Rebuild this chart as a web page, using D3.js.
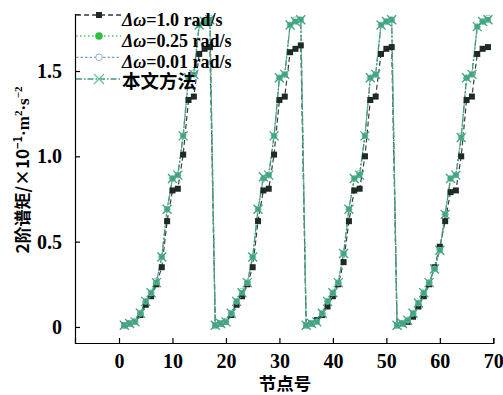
<!DOCTYPE html>
<html><head><meta charset="utf-8">
<script src="https://cdn.jsdelivr.net/npm/d3@7"></script>
<style>body{margin:0;background:#fff}svg{display:block}</style>
</head><body><svg id="c" width="503" height="395"></svg>
<script>
const nodes = [1,2,3,4,5,6,7,8,9,10,11,12,13,14,15,16,17,
  18,19,20,21,22,23,24,25,26,27,28,29,30,31,32,33,34,
  35,36,37,38,39,40,41,42,43,44,45,46,47,48,49,50,51,
  52,53,54,55,56,57,58,59,60,61,62,63,64,65,66,67,68,69];
const dw10 = [0.01,0.02,0.03,0.07,0.13,0.18,0.25,0.35,0.62,0.80,0.81,1.01,1.33,1.35,1.60,1.63,1.64,
  0.01,0.02,0.03,0.07,0.13,0.18,0.25,0.35,0.62,0.80,0.81,1.01,1.33,1.35,1.61,1.63,1.65,
  0.01,0.02,0.04,0.07,0.12,0.18,0.25,0.38,0.62,0.80,0.81,1.00,1.33,1.35,1.60,1.63,1.64,
  0.01,0.02,0.03,0.06,0.12,0.18,0.25,0.35,0.47,0.62,0.79,0.80,1.00,1.33,1.35,1.60,1.63,1.64];
const dw025 = [0.01,0.02,0.03,0.08,0.15,0.20,0.26,0.41,0.69,0.87,0.89,1.12,1.46,1.48,1.77,1.79,1.80,
  0.01,0.02,0.03,0.08,0.15,0.20,0.26,0.41,0.69,0.87,0.89,1.12,1.46,1.48,1.77,1.79,1.80,
  0.01,0.02,0.03,0.08,0.15,0.20,0.26,0.43,0.69,0.87,0.89,1.12,1.46,1.48,1.77,1.79,1.80,
  0.01,0.02,0.04,0.08,0.14,0.20,0.26,0.34,0.45,0.66,0.87,0.89,1.11,1.46,1.48,1.76,1.79,1.80];
const dw001 = [0.01,0.02,0.03,0.08,0.15,0.20,0.27,0.41,0.69,0.87,0.89,1.12,1.46,1.49,1.77,1.79,1.81,
  0.01,0.02,0.03,0.08,0.15,0.21,0.26,0.41,0.69,0.87,0.89,1.12,1.46,1.48,1.77,1.80,1.80,
  0.01,0.02,0.03,0.08,0.15,0.20,0.26,0.43,0.69,0.87,0.90,1.12,1.46,1.48,1.77,1.79,1.80,
  0.01,0.02,0.04,0.08,0.14,0.20,0.26,0.34,0.45,0.66,0.87,0.89,1.12,1.46,1.48,1.76,1.79,1.81];
const proposed = [0.01,0.02,0.03,0.08,0.15,0.20,0.26,0.41,0.69,0.87,0.89,1.12,1.46,1.48,1.77,1.79,1.80,
  0.01,0.02,0.03,0.08,0.15,0.20,0.26,0.41,0.69,0.88,0.89,1.12,1.46,1.48,1.77,1.79,1.80,
  0.01,0.02,0.03,0.08,0.15,0.20,0.26,0.43,0.69,0.87,0.89,1.12,1.46,1.48,1.77,1.79,1.80,
  0.01,0.02,0.04,0.08,0.14,0.20,0.26,0.34,0.45,0.66,0.87,0.89,1.11,1.46,1.48,1.76,1.79,1.80];
const xTicks = [0,10,20,30,40,50,60,70];
const yTicks = [0,0.5,1.0,1.5];
const yTickLabels = ["0","0.5","1.0","1.5"];
const legendValues = ["=1.0 rad/s","=0.25 rad/s","=0.01 rad/s"];
const legendMethod = "本文方法";
const xTitle = "节点号";

const svg = d3.select("#c");
const x = d3.scaleLinear().domain([-8.23,70]).range([75,493.3]);
const y = d3.scaleLinear().domain([-0.094,1.834]).range([343,14]);
const SERIF = "'Liberation Serif','Times New Roman',serif";
const CJK = "'Noto Sans CJK SC','Noto Sans',sans-serif";

// axes
const gx = svg.append("g").attr("transform","translate(0,343)")
  .call(d3.axisBottom(x).tickValues(xTicks).tickSizeInner(-5).tickSizeOuter(-5).tickFormat(d3.format("d")));
gx.selectAll("text").attr("y",10.5).attr("dy","0.71em")
  .style("font-family",SERIF).style("font-weight","bold").style("font-size","20px").attr("fill","#000");
const gy = svg.append("g").attr("transform","translate(75,0)")
  .call(d3.axisLeft(y).tickValues(yTicks).tickSizeInner(-5).tickSizeOuter(-5).tickFormat((d,i)=>yTickLabels[i]));
gy.selectAll("text").attr("x",-13)
  .style("font-family",SERIF).style("font-weight","bold").style("font-size","20px").attr("fill","#000");
svg.selectAll(".domain,.tick line").attr("stroke","#000").attr("stroke-width",1.2);

// titles
svg.append("text").attr("x",285).attr("y",389.5).attr("text-anchor","middle")
  .style("font-family",CJK).style("font-weight","bold").style("font-size","17.5px").text(xTitle);
const yt = svg.append("text").attr("transform","translate(29,170) rotate(-90)").attr("text-anchor","middle")
  .style("font-size","17px").style("font-weight","bold");
yt.append("tspan").style("font-family",CJK).text("2阶谱矩/×10");
yt.append("tspan").style("font-family",CJK).style("font-size","11px").attr("dy",-7).text("−1");
yt.append("tspan").style("font-family",SERIF).attr("dy",7).text("·m");
yt.append("tspan").style("font-family",SERIF).style("font-size","11px").attr("dy",-7).text("2");
yt.append("tspan").style("font-family",SERIF).attr("dy",7).text("·s");
yt.append("tspan").style("font-family",SERIF).style("font-size","11px").attr("dy",-7).text("−2");

// series
const mk = vals => nodes.map((n,i)=>({n, v: vals[i]}));
const line = d3.line().x(d=>x(d.n)).y(d=>y(d.v));
const styles = [
  {data: mk(dw10), stroke:"#3a3a3a", dash:"5,3", w:1.2},
  {data: mk(dw025), stroke:"#5cc060", dash:"1.5,2.5", w:1.4},
  {data: mk(dw001), stroke:"#7f9fc6", dash:"2.5,2", w:1},
  {data: mk(proposed), stroke:"#3f9c7c", dash:"6,2,1.5,2", w:1.3}
];
const gl = svg.append("g");
styles.forEach(s=>{
  gl.append("path").datum(s.data).attr("d",line).attr("fill","none")
    .attr("stroke",s.stroke).attr("stroke-width",s.w).attr("stroke-dasharray",s.dash);
});
const gm = svg.append("g");
gm.selectAll("rect.sq").data(styles[0].data).join("rect").attr("class","sq")
  .attr("x",d=>x(d.n)-3).attr("y",d=>y(d.v)-3).attr("width",6).attr("height",6).attr("fill","#1e2a24");
gm.selectAll("circle.g").data(styles[1].data).join("circle").attr("class","g")
  .attr("cx",d=>x(d.n)).attr("cy",d=>y(d.v)).attr("r",3).attr("fill","#3cb85a");
gm.selectAll("circle.b").data(styles[2].data).join("circle").attr("class","b")
  .attr("cx",d=>x(d.n)).attr("cy",d=>y(d.v)).attr("r",3).attr("fill","none").attr("stroke","#8fb0cf").attr("stroke-width",0.9);
gm.selectAll("path.x").data(styles[3].data).join("path").attr("class","x")
  .attr("transform",d=>`translate(${x(d.n)},${y(d.v)})`)
  .attr("d","M-4.5,-4.5L4.5,4.5M-4.5,4.5L4.5,-4.5").attr("stroke","#3fa386").attr("stroke-width",1.3);

// legend
const ly = [15,36,57.3,79];
const lg = svg.append("g");
styles.forEach((s,i)=>{
  lg.append("line").attr("x1",76).attr("x2",121).attr("y1",ly[i]).attr("y2",ly[i])
    .attr("stroke",s.stroke).attr("stroke-width",s.w+0.3).attr("stroke-dasharray",s.dash);
});
lg.append("rect").attr("x",96).attr("y",ly[0]-3).attr("width",6).attr("height",6).attr("fill","#1e2a24");
lg.append("circle").attr("cx",99).attr("cy",ly[1]).attr("r",3.8).attr("fill","#2fbf45");
lg.append("circle").attr("cx",99).attr("cy",ly[2]).attr("r",3.3).attr("fill","#fff").attr("stroke","#8fb0cf").attr("stroke-width",1);
lg.append("path").attr("transform",`translate(99,${ly[3]})`).attr("d","M-5,-5L5,5M-5,5L5,-5")
  .attr("stroke","#6cbfa6").attr("stroke-width",1.3);
legendValues.forEach((t,i)=>{
  const tx = lg.append("text").attr("x",122).attr("y",ly[i]+10.5)
    .style("font-family",SERIF).style("font-weight","bold").style("font-size","18px");
  tx.append("tspan").style("font-style","italic").text("Δω");
  tx.append("tspan").text(t);
});
lg.append("text").attr("x",122).attr("y",ly[3]+8.5)
  .style("font-family",SERIF+","+CJK).style("font-weight","bold").style("font-size","18.5px").text(legendMethod);
</script></body></html>
